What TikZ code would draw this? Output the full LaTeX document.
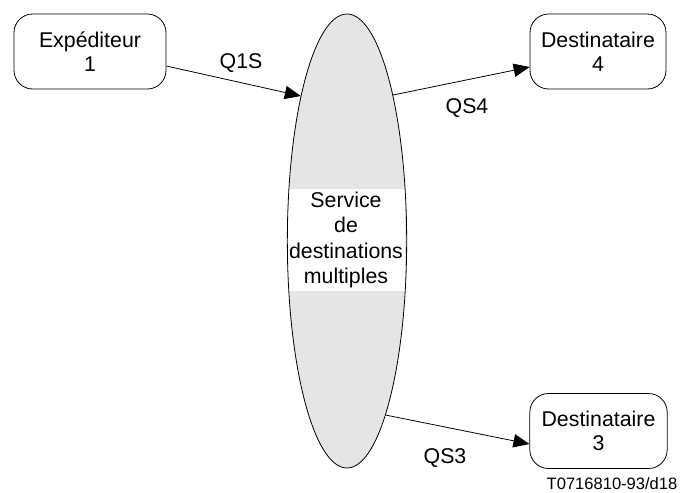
\documentclass[tikz,border=0pt]{standalone}
\usepackage{fontspec}
\setmainfont{Liberation Sans}
\usetikzlibrary{shapes.geometric,arrows.meta}
\begin{document}
\begin{tikzpicture}[x=0.75pt,y=-0.75pt,
  box/.style={draw, rounded corners=14pt, minimum height=56.25pt, inner sep=0pt, align=center, font=\fontsize{16}{18}\selectfont, line width=0.6pt},
  lbl/.style={anchor=base, inner sep=0pt, font=\fontsize{16}{18}\selectfont},
  conn/.style={line width=0.6pt, -{Triangle[length=12pt,width=10pt]}}]
\useasboundingbox (0,0) rectangle (680,492);
% ellipse
\node[ellipse, fill=black!10, minimum width=89.5pt, minimum height=340.5pt, inner sep=0pt] (svcfill) at (347,241) {};
\node[fill=white, minimum width=88pt, minimum height=77pt, inner sep=0pt, align=center, font=\fontsize{16}{19}\selectfont] (svctext) at (346,240) {Service\\de\\destinations\\multiples};
\node[ellipse, draw, line width=0.6pt, minimum width=89.5pt, minimum height=340.5pt, inner sep=0pt] (svc) at (347,241) {};
% boxes
\node[box, minimum width=114pt] (exp) at (90,51.5) {Expéditeur\\1};
\node[box, minimum width=102pt] (d4) at (598,51.5) {Destinataire\\4};
\node[box, minimum width=103pt] (d3) at (598.5,431) {Destinataire\\3};
% connector end points
\coordinate (e1) at (exp.east |- 0,66);
\coordinate (s1) at (300.8,96);
\coordinate (s4) at (393,95);
\coordinate (e4) at (d4.west |- 0,67);
\coordinate (s3) at (385.5,415);
\coordinate (e3) at (d3.west |- 0,444);
\draw[conn] (e1) -- (s1);
\draw[conn] (s4) -- (e4);
\draw[conn] (s3) -- (e3);
% labels
\node[lbl] (l1) at (241,68) {Q1S};
\node[lbl] (l4) at (467,113) {QS4};
\node[lbl] (l3) at (445,463) {QS3};
\node[anchor=base, inner sep=0pt, font=\fontsize{12.4}{14}\selectfont] (cap) at (612,489) {T0716810-93/d18};
\end{tikzpicture}
\end{document}
